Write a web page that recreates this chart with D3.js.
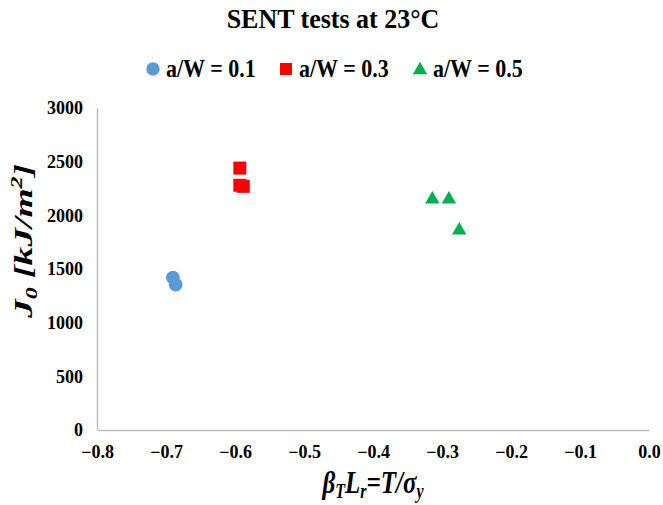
<!DOCTYPE html>
<html>
<head>
<meta charset="utf-8">
<script src="https://cdn.jsdelivr.net/npm/d3@7"></script>
<style>
  html, body { margin: 0; padding: 0; background: #fff; }
  svg { display: block; }
  text { font-family: "Liberation Serif", "Times New Roman", serif; }
</style>
</head>
<body>
<svg id="chart" width="663" height="505"></svg>
<script>
// SENT test results: J0 versus normalised T-stress
const seriesNames = ["a/W = 0.1", "a/W = 0.3", "a/W = 0.5"];
const seriesColors = ["#5b9bd5", "#ff0000", "#00b050"];
const seriesShapes = [d3.symbolCircle, d3.symbolSquare, d3.symbolTriangle];

const xW01 = [-0.690, -0.686];
const yW01 = [1420, 1355];
const xW03 = [-0.593, -0.593, -0.588];
const yW03 = [2440, 2280, 2270];
const xW05 = [-0.314, -0.290, -0.275];
const yW05 = [2150, 2150, 1860];

const xTicks = [-0.8, -0.7, -0.6, -0.5, -0.4, -0.3, -0.2, -0.1, 0.0];
const yTicks = [0, 500, 1000, 1500, 2000, 2500, 3000];

const series = [
  { xs: xW01, ys: yW01 },
  { xs: xW03, ys: yW03 },
  { xs: xW05, ys: yW05 }
];

const FONT = "Liberation Serif";
const svg = d3.select("#chart");
const plot = { left: 97, right: 649, top: 108, bottom: 430 };

const x = d3.scaleLinear().domain([-0.8, 0]).range([plot.left, plot.right]);
const y = d3.scaleLinear().domain([0, 3000]).range([plot.bottom, plot.top]);

// axes (lines only, no tick marks)
const axisColor = "#bfbfbf";
const xAxis = svg.append("g").attr("transform", `translate(0,${plot.bottom})`)
  .call(d3.axisBottom(x).tickValues(xTicks).tickSize(0).tickPadding(15)
    .tickFormat(d3.format(".1f")));
const yAxis = svg.append("g").attr("transform", `translate(${plot.left},0)`)
  .call(d3.axisLeft(y).tickValues(yTicks).tickSize(0).tickPadding(14)
    .tickFormat(d3.format("d")));
[xAxis, yAxis].forEach(g => {
  g.attr("font-family", FONT);
  g.select(".domain").attr("stroke", axisColor).attr("stroke-width", 1.5);
  g.selectAll("text").attr("font-family", FONT).attr("font-size", 18)
    .attr("font-weight", "bold").attr("fill", "#000");
});
xAxis.selectAll("text").attr("dy", "0.71em");

// markers
const markerSize = [150, 169, 90];
series.forEach((s, i) => {
  const sym = d3.symbol().type(seriesShapes[i]).size(markerSize[i]);
  svg.append("g").selectAll("path")
    .data(s.xs.map((v, j) => [v, s.ys[j]]))
    .join("path")
    .attr("d", sym)
    .attr("fill", seriesColors[i])
    .attr("transform", d => `translate(${x(d[0])},${y(d[1])})`);
});

// title
svg.append("text").attr("transform", "translate(333,28) scale(1,1.05)")
  .attr("text-anchor", "middle").attr("font-family", FONT)
  .attr("font-size", 26).attr("font-weight", "bold").text("SENT tests at 23°C");

// legend
const legendX = [153, 286, 420];
const legend = svg.append("g");
seriesNames.forEach((name, i) => {
  const sym = d3.symbol().type(seriesShapes[i]).size([140, 144, 90][i]);
  legend.append("path").attr("d", sym).attr("fill", seriesColors[i])
    .attr("transform", `translate(${legendX[i]},${[69, 69, 70][i]})`);
  legend.append("text").attr("transform", `translate(${legendX[i] + 13},77) scale(1,1.1)`)
    .attr("font-family", FONT)
    .attr("font-size", 22).attr("font-weight", "bold").text(name);
});

// axis titles
const xt = svg.append("text").attr("transform", "translate(373,493) scale(1,1.25)")
  .attr("text-anchor", "middle").attr("font-family", FONT)
  .attr("font-size", 25).attr("font-weight", "bold").attr("font-style", "italic");
xt.append("tspan").text("β");
xt.append("tspan").attr("font-size", 16).attr("dy", 4).text("T");
xt.append("tspan").attr("dy", -4).text("L");
xt.append("tspan").attr("font-size", 16).attr("dy", 4).text("r");
xt.append("tspan").attr("dy", -4).text("=T/σ");
xt.append("tspan").attr("font-size", 16).attr("dy", 4).text("y");

const yt = svg.append("text").attr("transform", "translate(32,241) rotate(-90) scale(1.5,1)")
  .attr("text-anchor", "middle").attr("font-family", FONT).attr("font-size", 25)
  .attr("font-weight", "bold").attr("font-style", "italic");
yt.append("tspan").text("J");
yt.append("tspan").attr("font-size", 16).attr("dy", 5).text("0");
yt.append("tspan").attr("dy", -5).text(" [kJ/m");
yt.append("tspan").attr("font-size", 16).attr("dy", -10).text("2");
yt.append("tspan").attr("dy", 10).text("]");
</script>
</body>
</html>
